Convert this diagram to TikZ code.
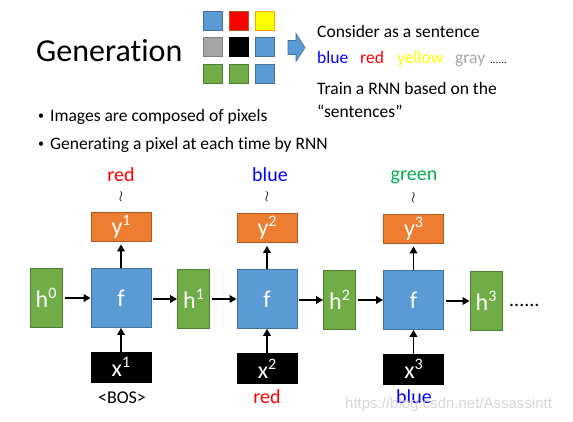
\documentclass[tikz,border=0pt]{standalone}
\usepackage{fontspec}
\setmainfont[Ligatures=NoCommon]{Carlito}
\newfontfamily\wmfont{Liberation Sans}
\usetikzlibrary{arrows.meta}
\definecolor{pblue}{HTML}{5B9BD5}
\definecolor{pbluedark}{HTML}{41719C}
\definecolor{porange}{HTML}{ED7D31}
\definecolor{porangedark}{HTML}{AE5A21}
\definecolor{pgreen}{HTML}{70AD47}
\definecolor{pgreendark}{HTML}{507E32}
\definecolor{pgray}{HTML}{A5A5A5}
\definecolor{pred}{HTML}{FF0000}
\definecolor{pyellow}{HTML}{FFFF00}
\definecolor{tblue}{HTML}{0000FF}
\definecolor{tgreen}{HTML}{00B050}
\newcommand\ssup[1]{\raisebox{0.36em}{\fontsize{16}{16}\selectfont #1}}
\begin{document}
\begin{tikzpicture}[x=1pt,y=-1pt,
  box/.style={draw, line width=0.8pt, inner sep=0pt, text=white, font=\fontsize{24}{24}\selectfont},
  fbox/.style={box, fill=pblue, draw=pbluedark, minimum width=60pt, minimum height=59pt},
  hbox/.style={box, fill=pgreen, draw=pgreendark, minimum width=32pt, minimum height=59pt},
  ybox/.style={box, fill=porange, draw=porangedark, minimum width=60pt, minimum height=29pt},
  xbox/.style={box, fill=black, draw=black, minimum width=60pt, minimum height=30pt},
  pix/.style={draw, line width=0.6pt, minimum width=19pt, minimum height=19pt, inner sep=0pt},
  arr/.style={-{Triangle[length=7pt,width=7.5pt]}, line width=1.8pt},
  lab/.style={inner sep=0pt, anchor=base, font=\fontsize{20}{20}\selectfont},
  txt/.style={inner sep=0pt, anchor=west, font=\fontsize{17.5}{17.5}\selectfont},
  ctxt/.style={inner sep=0pt, anchor=base west, font=\fontsize{17.5}{17.5}\selectfont},
  wave/.style={inner sep=0pt, font=\fontsize{10}{10}\selectfont}]
\useasboundingbox (0,0) rectangle (573,422);
\fill[white] (0,0) rectangle (573,422);
% title
\node[inner sep=0pt, anchor=west, font=\fontsize{32}{32}\selectfont] (title) at (36,51) {Generation};
% pixel grid
\node[pix, fill=pblue, draw=pbluedark] (p11) at (212.5,20.5) {};
\node[pix, fill=pred, draw=porangedark] (p12) at (238.5,20.5) {};
\node[pix, fill=pyellow, draw=orange!70!yellow] (p13) at (264.5,20.5) {};
\node[pix, fill=pgray, draw=gray] (p21) at (212.5,46.5) {};
\node[pix, fill=black, draw=black] (p22) at (238.5,46.5) {};
\node[pix, fill=pblue, draw=pbluedark] (p23) at (264.5,46.5) {};
\node[pix, fill=pgreen, draw=pgreendark] (p31) at (212.5,74) {};
\node[pix, fill=pgreen, draw=pgreendark] (p32) at (238.5,74) {};
\node[pix, fill=pblue, draw=pbluedark] (p33) at (264.5,74) {};
% block arrow
\draw[fill=pblue, draw=pbluedark, line width=0.6pt]
  (288,40.5) -- (296,40.5) -- (296,33.5) -- (305,47.5) -- (296,61.5) -- (296,54.5) -- (288,54.5) -- cycle;
% header texts
\node[txt] (t1) at (317,31) {Consider as a sentence};
\node[ctxt, text=tblue] (c1) at (317,64) {blue};
\node[ctxt, text=pred] (c2) at (360,64) {red};
\node[ctxt, text=pyellow] (c3) at (397,64) {yellow};
\node[ctxt, text=pgray] (c4) at (455,64) {gray};
\node[ctxt, font=\fontsize{11}{11}\selectfont] (c5) at (490,64) {......};
\node[txt] (t2) at (317,88) {Train a RNN based on the};
\node[txt] (t3) at (317,111) {``sentences''};
% bullets
\node[inner sep=0pt, font=\fontsize{12}{12}\selectfont] (b1) at (41,117) {\textbullet};
\node[txt] (bt1) at (50,117) {Images are composed of pixels};
\node[inner sep=0pt, font=\fontsize{12}{12}\selectfont] (b2) at (41,145) {\textbullet};
\node[txt] (bt2) at (50,145) {Generating a pixel at each time by RNN};
% RNN chain
\node[hbox] (h0) at (46,298) {h\ssup{0}};
\node[fbox] (f1) at (121,298) {f};
\node[hbox] (h1) at (193.5,299) {h\ssup{1}};
\node[fbox] (f2) at (267,299) {f};
\node[hbox] (h2) at (339.5,300) {h\ssup{2}};
\node[fbox] (f3) at (413.5,300) {f};
\node[hbox] (h3) at (486,301) {h\ssup{3}};
\node[inner sep=0pt, anchor=base west, font=\fontsize{20}{20}\selectfont] (dots) at (509,306) {......};
\node[ybox] (y1) at (121,226.5) {y\ssup{1}};
\node[ybox] (y2) at (267,228) {y\ssup{2}};
\node[ybox] (y3) at (413.5,228.5) {y\ssup{3}};
\node[xbox] (x1) at (121,367) {x\ssup{1}};
\node[xbox] (x2) at (267,368.5) {x\ssup{2}};
\node[xbox] (x3) at (413.5,369) {x\ssup{3}};
% labels
\node[lab, text=pred] (o1) at (121,182) {red};
\node[lab, text=tblue] (o2) at (270,182) {blue};
\node[lab, text=tgreen] (o3) at (414,181) {green};
\node[wave] (w1) at (121,197) {\scalebox{1.5}{$\wr$}};
\node[wave] (w2) at (267,197) {\scalebox{1.5}{$\wr$}};
\node[wave] (w3) at (413.5,198) {\scalebox{1.5}{$\wr$}};
\node[lab, font=\fontsize{18}{18}\selectfont] (i1) at (122,403) {<BOS>};
\node[lab, text=pred] (i2) at (267,403) {red};
\node[lab, text=tblue] (i3) at (414,403) {blue};
% arrows
\draw[arr, shorten <=3pt] (h0.east) -- (f1.west |- h0.east);
\draw[arr, shorten <=2pt] (f1.east |- h1.west) -- (h1.west);
\draw[arr, shorten <=2pt] (h1.east) -- (f2.west |- h1.east);
\draw[arr, shorten <=2pt] (f2.east |- h2.west) -- (h2.west);
\draw[arr, shorten <=2pt] (h2.east) -- (f3.west |- h2.east);
\draw[arr, shorten <=2pt] (f3.east |- h3.west) -- (h3.west);
\draw[arr, shorten >=3pt] (f1.north) -- (y1.south);
\draw[arr, shorten >=3pt] (f2.north) -- (y2.south);
\draw[arr, shorten >=3pt] (f3.north) -- (y3.south);
\draw[arr] (x1.north) -- (f1.south);
\draw[arr] (x2.north) -- (f2.south);
\draw[arr] (x3.north) -- (f3.south);
% watermark
\node[inner sep=0pt, anchor=west, text=gray!40, opacity=0.8, font=\wmfont\fontsize{15}{15}\selectfont] (wm) at (345,405) {https://blog.csdn.net/Assassintt};
\end{tikzpicture}
\end{document}
